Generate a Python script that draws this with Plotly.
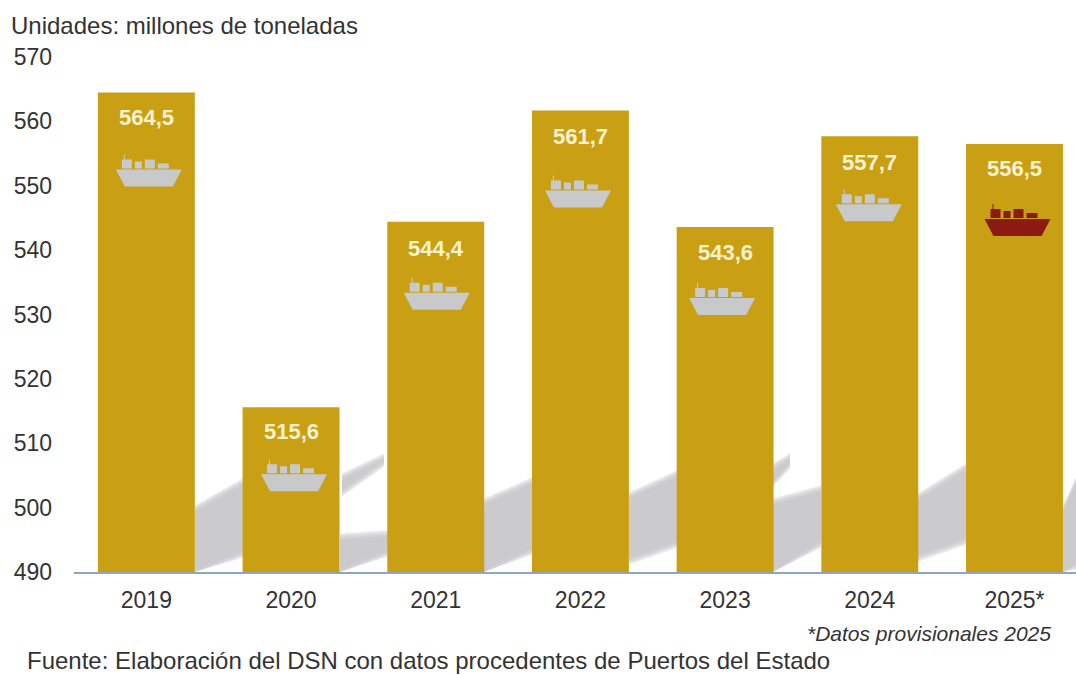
import plotly.graph_objects as go

years = ["2019", "2020", "2021", "2022", "2023", "2024", "2025*"]
tonnes = [564.5, 515.6, 544.4, 561.7, 543.6, 557.7, 556.5]
value_labels = ["564,5", "515,6", "544,4", "561,7", "543,6", "557,7", "556,5"]
y_ticks = [490, 500, 510, 520, 530, 540, 550, 560, 570]

BAR = "#C9A013"
GREY = "#C4C5C8"
DARK = "#333333"
FONT = "Liberation Sans, Arial, sans-serif"
L, R, T, B = 74, 1076, 57, 572

# decoration placement (pixels relative to each bar top / centre)
ship_drop = [94, 84, 88, 97, 88, 85, 92]
ship_dx = [2.5, 3, 1, -2.5, -3, -1, 3]
label_drop = [25, 24, 27, 26, 26, 26, 25]
ship_colors = ["#C8C9CB"] * 6 + ["#8B1A12"]

SHIP = (
    "M-33,17 L33,17 L24,0 L-24,0 Z "
    "M-27,18 L-27,27 L-25,27 L-25,32 L-24,32 L-24,27 L-17,27 L-17,18 Z "
    "M-14,18 L-14,25 L-7,25 L-7,18 Z "
    "M-4,18 L-4,27 L6,27 L6,18 Z "
    "M9,18 L9,23 L20,23 L20,18 Z"
)

# background wave pieces: (x0, x1, top0, top1, bot0, bot1)
WAVES = [
    (195, 243, 510, 483, 572, 553),
    (340, 388, 538, 535, 572, 552),
    (342, 384, 478, 458, 492, 462),
    (484, 532, 503, 482, 572, 550),
    (629, 677, 497, 475, 560, 543),
    (773, 790, 468, 458, 482, 464),
    (773, 821, 503, 490, 572, 543),
    (918, 966, 498, 468, 557, 540),
    (1063, 1076, 510, 482, 572, 565),
]


def px(x):
    return (x - L) / (R - L)


def py(y):
    return (B - y) / (B - T)


shapes = []
for x0, x1, t0, t1, b0, b1 in WAVES:
    for grow in (5, 4, 3, 2, 1, 0, -1, -2):
        b0g, b1g = min(b0 + grow, B), min(b1 + grow, B)
        path = (
            f"M{px(x0)},{py(t0 - grow)} L{px(x1)},{py(t1 - grow)} "
            f"L{px(x1)},{py(b1g)} L{px(x0)},{py(b0g)} Z"
        )
        shapes.append(dict(type="path", xref="paper", yref="paper", path=path,
                           fillcolor=GREY, opacity=0.22, line_width=0, layer="below"))

for i, (v, drop, dx, col) in enumerate(zip(tonnes, ship_drop, ship_dx, ship_colors)):
    pts = []
    for tok in SHIP.split():
        if tok == "Z":
            pts.append("Z")
        else:
            x, y = tok[1:].split(",")
            pts.append(f"{tok[0]}{float(x) + dx},{float(y) - drop}")
    shapes.append(dict(type="path", xref="x", yref="y", xsizemode="pixel", ysizemode="pixel",
                       xanchor=i, yanchor=v, layer="above", fillcolor=col, line_width=0,
                       path=" ".join(pts)))

annotations = [
    dict(x=i, y=v, xref="x", yref="y", text=f"<b>{t}</b>", showarrow=False, yshift=-drop,
         font=dict(family=FONT, size=22, color="#FBF3D0"))
    for i, (v, t, drop) in enumerate(zip(tonnes, value_labels, label_drop))
]
for text, x, y, size, anchor, italic in [
    ("Unidades: millones de toneladas", 9, 26, 24, "left", False),
    ("*Datos provisionales 2025", 1053, 633, 21, "right", True),
    ("Fuente: Elaboración del DSN con datos procedentes de Puertos del Estado", 25, 660.5, 24, "left", False),
]:
    annotations.append(dict(
        xref="paper", yref="paper", x=px(x), y=py(y), xanchor=anchor, yanchor="middle",
        text=f"<i>{text}</i>" if italic else text, showarrow=False,
        font=dict(family=FONT, size=size, color=DARK)))

fig = go.Figure(go.Bar(x=years, y=tonnes, width=0.67, marker=dict(color=BAR, line_width=0),
                       hoverinfo="x+y"))
fig.update_layout(
    width=1076, height=675, autosize=False, showlegend=False,
    margin=dict(l=L, r=1076 - R, t=T, b=675 - B, pad=0),
    paper_bgcolor="white", plot_bgcolor="rgba(0,0,0,0)",
    font=dict(family=FONT, color=DARK),
    shapes=shapes, annotations=annotations,
    xaxis=dict(type="category", categoryorder="array", categoryarray=years,
               range=[-0.5, 6.425], showgrid=False, showline=True, linecolor="#8FA6C0",
               linewidth=2, ticks="", ticklabelstandoff=6, tickfont=dict(size=23, color=DARK)),
    yaxis=dict(range=[490, 570], tickvals=y_ticks, showgrid=False, zeroline=False,
               showline=False, ticks="", ticklabelstandoff=21, tickfont=dict(size=23, color=DARK)),
)
fig.write_html("out.html", config={"displayModeBar": False},
               post_script="document.body.style.margin='0';document.body.style.overflow='hidden';")
